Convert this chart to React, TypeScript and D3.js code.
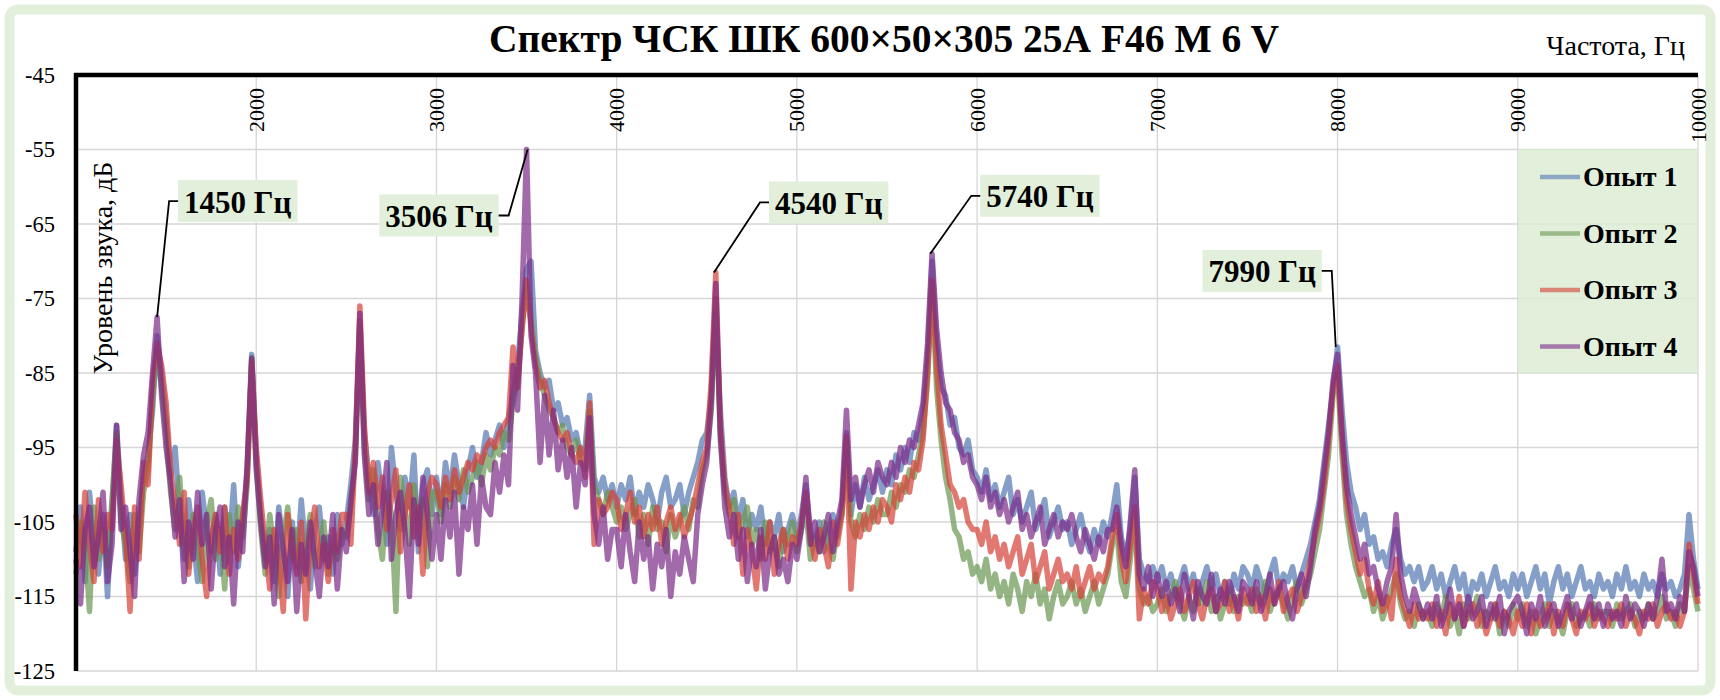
import React, { useEffect, useRef } from 'react';
import * as d3 from 'd3';

const W = 1720;
const H = 700;

// Frequency bins of the spectrum, Hz
const FREQ_START = 1000;
const FREQ_END = 10000;
const FREQ_STEP = 25;
const FREQS = d3.range(FREQ_START, FREQ_END + 1, FREQ_STEP);

const X_TICKS = [2000, 3000, 4000, 5000, 6000, 7000, 8000, 9000, 10000];
const Y_TICKS = [-45, -55, -65, -75, -85, -95, -105, -115, -125];

const SERIES_NAMES = ['Опыт 1', 'Опыт 2', 'Опыт 3', 'Опыт 4'];

// Levels, dB — one row per 500 Hz (20 bins)
const OPYT_1 = [
  -109, -103, -113, -101, -108, -112, -104, -115, -103, -92, -102, -110, -104, -112, -105, -99, -96, -90, -80, -85,
  -91, -99, -95, -104, -110, -102, -107, -113, -101, -106, -109, -104, -112, -103, -108, -100, -111, -105, -98, -82.5,
  -96, -104, -110, -106, -113, -103, -108, -115, -105, -111, -102, -109, -114, -106, -103, -110, -107, -112, -104, -108,
  -105, -100, -94, -78, -93, -99, -104, -97, -102, -108, -95, -101, -106, -99, -103, -96, -109, -100, -98, -104,
  -99, -104, -97, -101, -96, -100, -103, -98, -95, -99, -97, -93, -96, -94, -92, -95, -91, -88, -84, -77,
  -71, -70, -82, -85, -87, -86, -90, -89, -92, -91, -94, -93, -96, -95, -88, -99, -101, -99, -102, -100,
  -103, -100, -102, -99, -104, -101, -103, -100, -102, -105, -101, -99, -103, -102, -100, -104, -101, -99, -97, -94,
  -93, -88, -77, -90, -99, -103, -101, -105, -102, -107, -104, -106, -103, -108, -105, -107, -104, -109, -106, -104,
  -107, -104, -100, -106, -108, -105, -109, -106, -104, -107, -103, -93, -104, -100, -103, -99, -102, -100, -98, -101,
  -98, -100, -96, -98, -95, -97, -93, -94, -90, -83, -70, -81, -87, -88, -92, -91, -95, -96, -94, -98,
  -99, -101, -98, -102, -100, -103, -101, -99, -104, -102, -105, -103, -101, -106, -104, -102, -107, -105, -103, -106,
  -105, -108, -106, -104, -107, -109, -106, -108, -105, -107, -104, -100, -107, -110, -106, -99, -110, -112, -113, -111,
  -113, -111, -114, -112, -115, -113, -111, -114, -112, -116, -113, -111, -114, -112, -115, -113, -116, -112, -114, -111,
  -112, -114, -111, -113, -115, -112, -110, -114, -112, -113, -111, -114, -112, -110, -108, -105, -102, -97, -92, -87,
  -81.5, -90, -97, -101, -103, -106, -104, -108, -107, -110, -109, -111, -108, -106, -110, -112, -111, -113, -111, -114,
  -113, -111, -114, -112, -115, -113, -111, -114, -112, -116, -113, -114, -112, -115, -113, -111, -114, -113, -115, -112,
  -114, -112, -115, -113, -111, -114, -112, -116, -113, -111, -114, -112, -115, -113, -111, -114, -113, -115, -112, -114,
  -113, -115, -112, -114, -111, -114, -113, -115, -112, -114, -113, -115, -112, -114, -113, -115, -114, -112, -104, -110,
  -114,
];

const OPYT_2 = [
  -112, -105, -108, -117, -103, -110, -106, -111, -102, -93, -105, -108, -113, -104, -109, -101, -98, -88, -82, -87,
  -93, -101, -106, -99, -108, -111, -104, -109, -113, -105, -102, -110, -106, -114, -104, -109, -103, -107, -100, -83,
  -97, -106, -112, -104, -109, -115, -107, -103, -110, -106, -113, -108, -104, -111, -109, -105, -112, -108, -110, -106,
  -107, -103, -96, -79, -95, -102, -98, -106, -110, -101, -104, -117, -99, -103, -108, -100, -105, -102, -111, -101,
  -101, -105, -100, -103, -99, -102, -98, -101, -99, -97, -100, -96, -98, -95, -96, -93, -94, -89, -86, -79,
  -73, -78, -83, -86, -88, -90, -91, -93, -92, -95, -96, -94, -97, -98, -90, -100, -102, -104, -101, -103,
  -105, -103, -106, -104, -102, -107, -104, -108, -103, -106, -105, -109, -104, -107, -105, -103, -106, -102, -103, -98,
  -96, -90, -75, -94, -101, -104, -102, -107, -105, -103, -108, -106, -110, -105, -109, -107, -111, -106, -108, -105,
  -109, -106, -103, -110, -107, -109, -105, -108, -110, -106, -104, -94, -105, -107, -104, -106, -103, -105, -102, -104,
  -104, -101, -103, -100, -101, -98, -99, -96, -93, -86, -73, -87, -94, -99, -102, -106, -107, -110, -109, -112,
  -111, -113, -110, -114, -112, -115, -113, -116, -112, -114, -117, -113, -115, -112, -116, -114, -118, -115, -113, -116,
  -115, -113, -116, -114, -117, -115, -113, -116, -114, -112, -108, -106, -113, -115, -110, -104, -114, -116, -115, -117,
  -116, -114, -117, -115, -113, -116, -118, -115, -117, -114, -116, -113, -117, -115, -118, -116, -114, -117, -115, -116,
  -115, -117, -114, -116, -113, -117, -115, -114, -116, -118, -115, -113, -116, -114, -112, -109, -106, -101, -96, -88,
  -85, -96, -104, -108, -111, -113, -115, -114, -117, -115, -118, -116, -114, -112, -116, -118, -117, -119, -116, -118,
  -117, -119, -116, -118, -115, -119, -117, -120, -116, -118, -117, -115, -119, -117, -118, -116, -120, -117, -119, -116,
  -118, -116, -119, -117, -120, -118, -116, -119, -117, -118, -120, -117, -116, -119, -118, -117, -119, -116, -118, -117,
  -117, -119, -116, -118, -117, -116, -119, -117, -118, -116, -118, -117, -115, -118, -117, -119, -116, -117, -111, -114,
  -117,
];

const OPYT_3 = [
  -104, -111, -101, -108, -113, -102, -109, -104, -106, -94, -100, -107, -117, -103, -110, -97, -100, -86, -81, -84,
  -89, -98, -103, -108, -101, -112, -106, -103, -110, -115, -107, -104, -109, -103, -112, -106, -110, -104, -99, -83.5,
  -95, -102, -108, -114, -106, -110, -117, -104, -109, -112, -105, -118, -107, -103, -111, -108, -113, -106, -109, -104,
  -104, -108, -95, -76, -92, -101, -97, -103, -99, -106, -102, -98, -109, -104, -100, -107, -103, -112, -101, -99,
  -100, -103, -99, -102, -98, -101, -99, -97, -98, -96, -97, -95, -94, -95, -93, -92, -91, -81.5, -87, -79,
  -72.5, -79, -84, -87, -86, -89, -91, -93, -94, -93, -96, -97, -95, -99, -89, -108, -102, -104, -103, -101,
  -102, -106, -104, -101, -105, -103, -107, -104, -106, -103, -108, -105, -103, -106, -104, -107, -105, -103, -100, -97,
  -95, -86, -71.5, -92, -100, -103, -108, -104, -112, -106, -109, -114, -107, -110, -105, -112, -108, -106, -110, -107,
  -108, -105, -101, -107, -110, -106, -108, -111, -105, -108, -104, -93.5, -114, -105, -107, -104, -106, -103, -105, -102,
  -103, -105, -100, -102, -99, -101, -97, -98, -94, -85, -72.5, -84, -92, -96, -100, -101, -103, -102, -105, -106,
  -106, -108, -105, -109, -107, -110, -108, -111, -109, -107, -112, -110, -108, -113, -111, -109, -114, -112, -110, -113,
  -112, -114, -111, -115, -113, -111, -114, -112, -113, -111, -107, -104, -110, -113, -108, -103, -118, -114, -116, -113,
  -114, -117, -115, -118, -116, -114, -117, -115, -113, -116, -118, -115, -114, -117, -116, -113, -117, -115, -118, -114,
  -116, -114, -117, -115, -118, -114, -116, -113, -117, -115, -114, -117, -115, -113, -110, -107, -104, -100, -94, -87,
  -84, -94, -102, -106, -109, -112, -110, -114, -116, -113, -117, -115, -118, -110, -115, -117, -119, -116, -118, -117,
  -118, -116, -119, -117, -120, -116, -118, -115, -119, -117, -116, -119, -117, -120, -118, -116, -119, -117, -118, -120,
  -117, -119, -116, -120, -117, -119, -118, -116, -120, -117, -119, -116, -118, -120, -117, -118, -116, -119, -117, -118,
  -119, -117, -118, -116, -119, -117, -118, -120, -117, -118, -116, -119, -117, -116, -118, -117, -119, -117, -108, -112,
  -116,
];

const OPYT_4 = [
  -110, -116, -106, -103, -111, -107, -101, -113, -108, -92, -106, -103, -109, -115, -102, -96, -93, -85, -77.5, -88,
  -95, -100, -107, -102, -113, -105, -110, -101, -108, -104, -114, -106, -103, -111, -107, -116, -105, -109, -97, -83,
  -98, -105, -111, -107, -116, -104, -109, -113, -106, -117, -108, -112, -105, -110, -115, -107, -111, -104, -114, -106,
  -109, -102, -97, -77, -96, -104, -100, -108, -103, -97, -110, -104, -101, -106, -115, -102, -108, -99, -104, -110,
  -104, -110, -102, -107, -101, -112, -103, -106, -100, -108, -99, -103, -104, -97, -101, -96, -100, -84, -90, -75,
  -55, -80, -85, -97, -88, -96, -90, -98, -94, -99, -95, -103, -97, -100, -91, -104, -108, -103, -110, -106,
  -106, -111, -104, -109, -113, -105, -110, -107, -114, -108, -111, -106, -115, -109, -112, -107, -110, -113, -104, -100,
  -97, -89, -73, -93, -103, -107, -104, -110, -106, -113, -108, -111, -106, -114, -109, -107, -112, -110, -113, -108,
  -110, -106, -99, -108, -105, -109, -107, -104, -109, -105, -102, -90, -102, -99, -103, -100, -98, -101, -97, -99,
  -100, -97, -99, -95, -97, -94, -95, -92, -89, -81, -69, -79, -85, -89, -90, -93, -94, -97, -96, -99,
  -100, -102, -99, -103, -101, -104, -102, -105, -103, -101, -106, -104, -107, -105, -103, -108, -106, -104, -107, -105,
  -106, -104, -107, -109, -106, -108, -110, -107, -109, -106, -106, -103, -108, -111, -105, -98, -112, -114, -111, -115,
  -112, -115, -113, -116, -114, -117, -112, -115, -118, -113, -115, -116, -112, -117, -114, -116, -113, -115, -117, -113,
  -114, -116, -113, -117, -115, -112, -116, -114, -113, -116, -118, -114, -112, -115, -111, -106, -103, -98, -93, -86,
  -82.5, -93, -100, -104, -107, -110, -108, -112, -111, -114, -116, -113, -111, -104, -112, -115, -117, -114, -116, -118,
  -116, -118, -115, -119, -117, -114, -118, -116, -119, -115, -118, -117, -115, -119, -116, -118, -115, -120, -117, -116,
  -115, -117, -120, -116, -118, -115, -119, -117, -116, -119, -117, -115, -118, -116, -119, -117, -115, -118, -116, -119,
  -116, -118, -117, -119, -115, -118, -116, -117, -119, -116, -118, -115, -110, -117, -116, -118, -115, -117, -109, -111,
  -115,
];

const SERIES_VALUES = [OPYT_1, OPYT_2, OPYT_3, OPYT_4];
const SERIES_COLORS = ['#5276b2', '#6a9650', '#d63f36', '#7a2a88'];

// Annotated peaks
const PEAK_FREQS = [1450, 3506, 4540, 5740, 7990];
const PEAK_LEVELS = [-77.5, -55, -71.5, -69, -81.5];
const PEAK_LABELS = PEAK_FREQS.map(f => `${f} Гц`);
// label box placement relative to the peak (px); side = where the leader attaches
const PEAK_LAYOUT = [
  { dx: 21, dy: -116, side: 'left' },
  { dx: -29, dy: 66, side: 'right' },
  { dx: 55, dy: -70, side: 'left' },
  { dx: 50, dy: -58, side: 'left' },
  { dx: -14, dy: -76, side: 'right' },
];

const FONT = '"Liberation Serif", "Times New Roman", serif';

const App: React.FC = () => {
  const svgRef = useRef<SVGSVGElement>(null);

  useEffect(() => {
    if (!svgRef.current) return;
    const svg = d3.select(svgRef.current);
    svg.selectAll('*').remove();

    const left = 76, right = 1698, top = 75, bottom = 671;
    const x = d3.scaleLinear().domain([FREQ_START, FREQ_END]).range([left, right]);
    const y = d3.scaleLinear().domain([-125, -45]).range([bottom, top]);

    // outer frame
    svg.append('rect')
      .attr('x', 9.5).attr('y', 9.5)
      .attr('width', W - 19).attr('height', H - 19)
      .attr('rx', 9)
      .attr('fill', '#fff')
      .attr('stroke', '#e2efda')
      .attr('stroke-width', 10);

    // gridlines
    const grid = svg.append('g').attr('stroke', '#d6d6d6').attr('stroke-width', 1.3);
    grid.selectAll('line.v').data(X_TICKS).join('line')
      .attr('x1', d => x(d)).attr('x2', d => x(d))
      .attr('y1', top).attr('y2', bottom);
    grid.selectAll('line.h').data(Y_TICKS.filter(t => t !== -45)).join('line')
      .attr('x1', left).attr('x2', right)
      .attr('y1', d => y(d)).attr('y2', d => y(d));

    // legend box (sits under the data, gridlines show through a bit)
    const legend = svg.append('g');
    legend.append('rect')
      .attr('x', x(9000)).attr('y', 149)
      .attr('width', right - x(9000)).attr('height', y(-85) - 149)
      .attr('fill', '#dcebd2').attr('fill-opacity', 0.82);
    SERIES_NAMES.forEach((name, i) => {
      const cy = 177 + i * 56.5;
      legend.append('line')
        .attr('x1', 1540).attr('x2', 1580)
        .attr('y1', cy).attr('y2', cy)
        .attr('stroke', SERIES_COLORS[i]).attr('stroke-opacity', 0.6)
        .attr('stroke-width', 4.5);
      legend.append('text')
        .attr('x', 1583).attr('y', cy + 9)
        .attr('font-family', FONT).attr('font-weight', 'bold')
        .attr('font-size', 28)
        .text(name);
    });

    // spectra
    const line = d3.line<number>()
      .x((_d, i) => x(FREQS[i]))
      .y(d => y(d));
    svg.append('g').selectAll('path').data(SERIES_VALUES).join('path')
      .attr('d', d => line(d) || '')
      .attr('fill', 'none')
      .attr('stroke', (_d, i) => SERIES_COLORS[i])
      .attr('stroke-opacity', 0.7)
      .attr('stroke-width', 5.5)
      .attr('stroke-linejoin', 'round');

    // axes lines
    svg.append('line')
      .attr('x1', left).attr('x2', left).attr('y1', top - 2).attr('y2', bottom)
      .attr('stroke', '#000').attr('stroke-width', 4.5);
    svg.append('line')
      .attr('x1', left - 2).attr('x2', right).attr('y1', top).attr('y2', top)
      .attr('stroke', '#000').attr('stroke-width', 4.5);

    // tick labels
    svg.append('g').selectAll('text').data(X_TICKS).join('text')
      .attr('transform', d => `translate(${x(d)},${top + 13}) rotate(-90)`)
      .attr('text-anchor', 'end')
      .attr('dominant-baseline', 'central')
      .attr('font-family', FONT).attr('font-size', 22)
      .text(d => d);
    svg.append('g').selectAll('text').data(Y_TICKS).join('text')
      .attr('x', 55).attr('y', d => y(d))
      .attr('text-anchor', 'end')
      .attr('dominant-baseline', 'central')
      .attr('font-family', FONT).attr('font-size', 22.5)
      .text(d => d);

    // titles
    svg.append('text')
      .attr('x', 884).attr('y', 52)
      .attr('text-anchor', 'middle')
      .attr('font-family', FONT).attr('font-weight', 'bold').attr('font-size', 39.5)
      .text('Спектр ЧСК ШК 600×50×305 25А F46 M 6 V');
    svg.append('text')
      .attr('x', 1685).attr('y', 55)
      .attr('text-anchor', 'end')
      .attr('font-family', FONT).attr('font-size', 28)
      .text('Частота, Гц');
    svg.append('text')
      .attr('transform', `translate(112,268) rotate(-90)`)
      .attr('text-anchor', 'middle')
      .attr('font-family', FONT).attr('font-size', 28)
      .text('Уровень звука, дБ');

    // peak annotations
    const ann = svg.append('g');
    PEAK_FREQS.forEach((f, i) => {
      const px = x(f);
      const py = y(PEAK_LEVELS[i]);
      const lay = PEAK_LAYOUT[i];
      const g = ann.append('g');
      const txt = g.append('text')
        .attr('font-family', FONT).attr('font-weight', 'bold').attr('font-size', 31)
        .attr('dominant-baseline', 'central')
        .text(PEAK_LABELS[i]);
      const bw = (txt.node() as SVGTextElement).getComputedTextLength() + 12;
      const bh = 42;
      const cy = py + lay.dy;
      const bx = lay.side === 'left' ? px + lay.dx : px + lay.dx - bw;
      g.insert('rect', 'text')
        .attr('x', bx).attr('y', cy - bh / 2)
        .attr('width', bw).attr('height', bh)
        .attr('fill', '#e2efda');
      txt.attr('x', bx + 6).attr('y', cy + 1);
      const edge = lay.side === 'left' ? bx : bx + bw;
      const corner = lay.side === 'left' ? edge - 9 : edge + 10;
      g.append('polyline')
        .attr('points', `${edge},${cy} ${corner},${cy} ${px},${py}`)
        .attr('fill', 'none')
        .attr('stroke', '#000')
        .attr('stroke-width', 1.8);
    });
  }, []);

  return (
    <div style={{ position: 'absolute', left: 0, top: 0 }}>
      <svg ref={svgRef} width={W} height={H} style={{ display: 'block' }} />
    </div>
  );
};

export default App;
